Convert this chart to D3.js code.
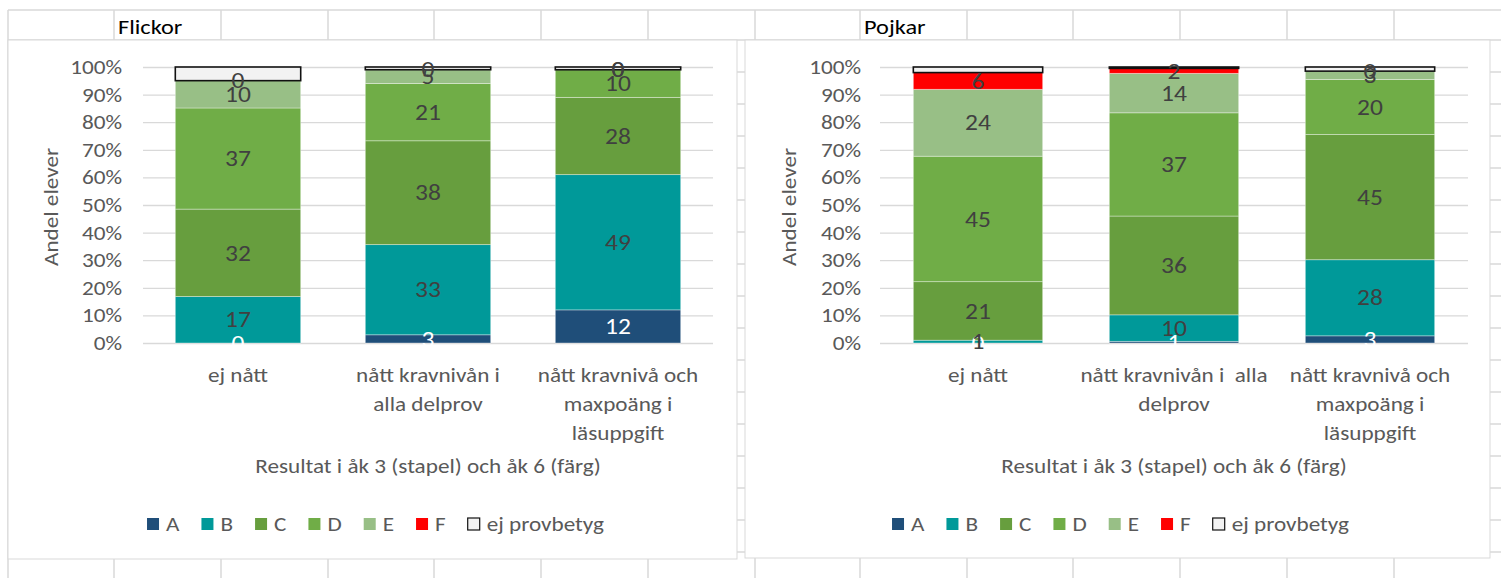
<!DOCTYPE html>
<html>
<head>
<meta charset="utf-8">
<style>
  body, html { margin: 0; padding: 0; background: #fff; }
  svg { display: block; font-family: Carlito, Calibri, Lato, sans-serif; }
</style>
</head>
<body>
<svg width="1501" height="578"></svg>
<script src="https://d3js.org/d3.v7.min.js"></script>
<script>
// categories on the x axis (results in year 3)
var categories = ["ej nått", "nått kravnivån i alla delprov", "nått kravnivå och maxpoäng i läsuppgift"];
var flickorLabels = [["ej nått"], ["nått kravnivån i", "alla delprov"], ["nått kravnivå och", "maxpoäng i", "läsuppgift"]];
var pojkarLabels = [["ej nått"], ["nått kravnivån i  alla", "delprov"], ["nått kravnivå och", "maxpoäng i", "läsuppgift"]];

// grades in year 6 (stacked series)
var grades = ["A", "B", "C", "D", "E", "F", "ej provbetyg"];
var gradeColors = ["#1f4e79", "#009999", "#679e3e", "#70ad47", "#98bf86", "#ff0000", "#f2f2f2"];

// values per category, in the order A, B, C, D, E, F, ej provbetyg
var flickorEjNatt = [0, 17, 32, 37, 10, 0, 5];
var flickorKravniva = [3, 33, 38, 21, 5, 0, 1];
var flickorMaxpoang = [12, 49, 28, 10, 0, 0, 1];

var pojkarEjNatt = [0, 1, 21, 45, 24, 6, 2];
var pojkarKravniva = [0.6, 9.6, 35.8, 37.4, 14.3, 1.8, 0.5];
var pojkarMaxpoang = [2.6, 27.6, 45.4, 20, 3, 0, 1.5];

var yTicks = d3.range(0, 1.01, 0.1);
var axisTitle = "Resultat i åk 3 (stapel) och åk 6 (färg)";
var yTitle = "Andel elever";

var svg = d3.select("svg");
var gridColor = "#d9d9d9";
var textGray = "#595959";
var S = 1.16; // horizontal stretch of the screenshot text

// text helper: stretched horizontally around its anchor point
function addText(parent, x, y, str, size, fill, anchor, rot) {
    return parent.append("text")
        .attr("transform", "translate(" + x + "," + y + ")" + (rot ? " rotate(" + rot + ")" : "") + " scale(" + S + ",1)")
        .attr("dy", "0.35em").attr("text-anchor", anchor || "start")
        .attr("fill", fill).style("font-size", size + "px").style("white-space", "pre")
        .text(str);
}

// spreadsheet background
var sheetCols = [8, 114, 221, 328, 434, 541, 648, 755, 860, 967, 1073, 1180, 1287, 1394];
var sheetRows = [10].concat(d3.range(40, 560, 32));
var sheet = svg.append("g");
sheet.selectAll(".c").data(sheetCols).join("line")
    .attr("x1", d => d).attr("x2", d => d).attr("y1", 10).attr("y2", 578)
    .attr("stroke", gridColor).attr("stroke-width", 1.5);
sheet.selectAll(".r").data(sheetRows).join("line")
    .attr("x1", 8).attr("x2", 1501).attr("y1", d => d).attr("y2", d => d)
    .attr("stroke", gridColor).attr("stroke-width", 1.5);

function drawChart(cfg) {
    var g = svg.append("g");

    // sheet title cell text
    addText(g, cfg.titleX, 27, cfg.title, 21, "#000");

    // chart box
    g.append("rect").attr("x", cfg.box[0]).attr("y", cfg.box[1])
        .attr("width", cfg.box[2] - cfg.box[0]).attr("height", cfg.box[3] - cfg.box[1])
        .attr("fill", "#fff").attr("stroke", gridColor).attr("stroke-width", 1);

    var rows = categories.map(function (c, i) {
        var r = { cat: c };
        grades.forEach(function (k, j) { r[k] = cfg.values[i][j]; });
        return r;
    });

    var x = d3.scaleBand().domain(categories).range(cfg.xRange).paddingInner(0.34).paddingOuter(0.17);
    var y = d3.scaleLinear().domain([0, 1]).range([343, 67]);
    var color = d3.scaleOrdinal().domain(grades).range(gradeColors);

    // y axis with gridlines
    var yAxis = g.append("g").attr("transform", "translate(" + cfg.xRange[0] + ",0)")
        .call(d3.axisLeft(y).tickValues(yTicks).tickFormat(d3.format(".0%"))
            .tickSize(-(cfg.xRange[1] - cfg.xRange[0])).tickPadding(cfg.tickPad / S));
    yAxis.select(".domain").remove();
    yAxis.selectAll("line").attr("stroke", gridColor).attr("stroke-width", 1.3);
    yAxis.selectAll("text").attr("fill", textGray).attr("transform", "scale(" + S + ",1)")
        .style("font-size", "20px").style("font-family", "Carlito, Calibri, Lato, sans-serif");

    var series = d3.stack().keys(grades).offset(d3.stackOffsetExpand)(rows);

    var layers = g.selectAll(".layer").data(series).join("g").attr("fill", d => color(d.key));
    layers.selectAll("rect").data(d => d.map(function (p) { p.key = d.key; return p; })).join("rect")
        .attr("x", d => x(d.data.cat))
        .attr("width", x.bandwidth())
        .attr("y", d => y(d[1]))
        .attr("height", d => Math.max(0, y(d[0]) - y(d[1])))
        .attr("stroke", d => d.key === "ej provbetyg" ? "#111" : "rgba(255,255,255,0.45)")
        .attr("stroke-width", d => d.key === "ej provbetyg" ? 1.6 : 0.8);

    // data labels (no labels for ej provbetyg)
    series.filter(s => s.key !== "ej provbetyg").forEach(function (s) {
        s.forEach(function (d) {
            addText(g, x(d.data.cat) + x.bandwidth() / 2, y((d[0] + d[1]) / 2),
                Math.round(d.data[s.key]), 22, s.key === "A" ? "#fff" : "#404040", "middle");
        });
    });

    // category labels
    categories.forEach(function (c, i) {
        cfg.catLabels[i].forEach(function (line, j) {
            addText(g, x(c) + x.bandwidth() / 2, 375 + j * 29, line, 20, textGray, "middle");
        });
    });

    // axis titles
    var cx = (cfg.xRange[0] + cfg.xRange[1]) / 2;
    addText(g, cx, 466, axisTitle, 20, textGray, "middle");
    addText(g, cfg.yTitleX, 207, yTitle, 20, textGray, "middle", -90);

    // legend
    var leg = g.append("g");
    var lx = 0;
    grades.forEach(function (k) {
        var item = leg.append("g").attr("transform", "translate(" + lx + ",0)");
        item.append("rect").attr("x", 0).attr("y", -6).attr("width", 12).attr("height", 12)
            .attr("fill", color(k))
            .attr("stroke", k === "ej provbetyg" ? "#111" : "none").attr("stroke-width", 1.2);
        var tx = addText(item, 19, 0, k, 20, textGray);
        lx += 19 + tx.node().getComputedTextLength() * S + 22;
    });
    var legW = lx - 22;
    var boxCx = (cfg.box[0] + cfg.box[2]) / 2;
    leg.attr("transform", "translate(" + (boxCx + 3 - legW / 2) + ",524)");
}

drawChart({
    title: "Flickor", titleX: 118,
    box: [8, 40, 737, 559],
    xRange: [143, 713], tickPad: 21, yTitleX: 51,
    values: [flickorEjNatt, flickorKravniva, flickorMaxpoang],
    catLabels: flickorLabels
});

drawChart({
    title: "Pojkar", titleX: 864,
    box: [745, 40, 1490, 558],
    xRange: [880, 1468], tickPad: 19, yTitleX: 789,
    values: [pojkarEjNatt, pojkarKravniva, pojkarMaxpoang],
    catLabels: pojkarLabels
});
</script>
</body>
</html>
